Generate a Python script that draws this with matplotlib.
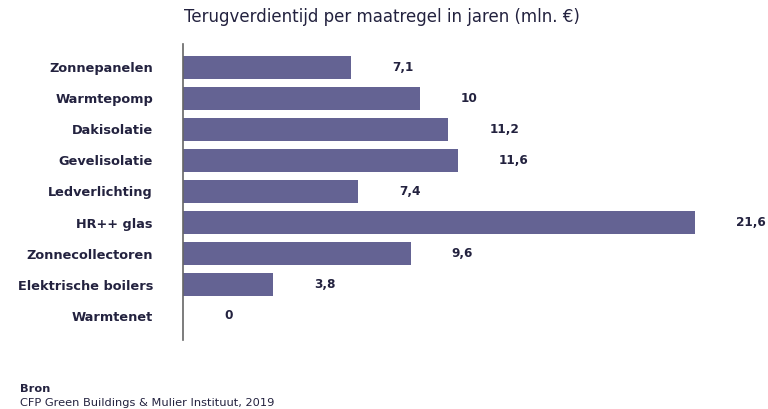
import matplotlib
matplotlib.use('Agg')
import matplotlib.pyplot as plt
import numpy as np

# data
maatregelen = ['Zonnepanelen', 'Warmtepomp', 'Dakisolatie', 'Gevelisolatie',
               'Ledverlichting', 'HR++ glas', 'Zonnecollectoren',
               'Elektrische boilers', 'Warmtenet']
jaren = [7.1, 10, 11.2, 11.6, 7.4, 21.6, 9.6, 3.8, 0]
labels = ['7,1', '10', '11,2', '11,6', '7,4', '21,6', '9,6', '3,8', '0']

title = 'Terugverdientijd per maatregel in jaren (mln. €)'
bron = 'Bron'
bron_tekst = 'CFP Green Buildings & Mulier Instituut, 2019'

bar_col = '#646393'
txt_col = '#23223f'
plt.rcParams['font.family'] = ['DejaVu Sans']

W, H = 768, 409
fig = plt.figure(figsize=(W/100, H/100), dpi=100)
# axes placed in pixel units: axis line at x=183, from y=44 to y=340
ax = fig.add_axes([183/W, (H-340)/H, (W-183)/W, 296/H])

pxu = 23.7  # pixels per unit
y = np.arange(len(jaren))
ax.barh(y, jaren, height=0.74, color=bar_col)
ax.set_xlim(0, (W-183)/pxu)
ax.set_ylim(8 + 24/31.1, -23/31.1)

for yi, v, lab in zip(y, jaren, labels):
    ax.text(v + 41/pxu, yi, lab, va='center', ha='left', fontsize=8.7,
            color=txt_col, fontweight='bold')

ax.set_yticks(y)
ax.set_yticklabels(maatregelen, fontsize=9.3, fontweight='bold', color=txt_col)
ax.tick_params(axis='y', length=0, pad=21.6)
ax.set_xticks([])
for s in ['top', 'right', 'bottom']:
    ax.spines[s].set_visible(False)
ax.spines['left'].set_color('#666666')
ax.spines['left'].set_linewidth(1.2)

fig.text(382/W, 1 - 17/H, title, ha='center', va='center', fontsize=12,
         color=txt_col)
fig.text(20/W, 1 - 389/H, bron, ha='left', va='center', fontsize=8.2,
         color=txt_col, fontweight='bold')
fig.text(20/W, 1 - 403/H, bron_tekst, ha='left', va='center', fontsize=8.2,
         color=txt_col)

fig.savefig('out.png', dpi=100)
